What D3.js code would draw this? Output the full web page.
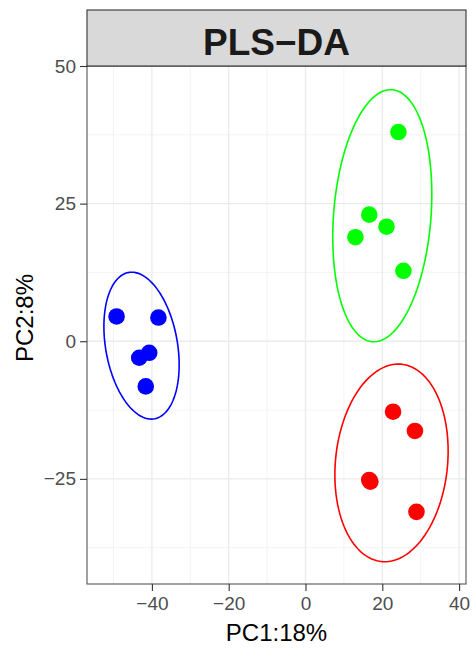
<!DOCTYPE html>
<html>
<head>
<meta charset="utf-8">
<script src="https://cdn.jsdelivr.net/npm/d3@7"></script>
<style>
  html, body { margin: 0; padding: 0; background: #fff; }
  svg { display: block; }
  text { font-family: "Liberation Sans", Arial, Helvetica, sans-serif; }
</style>
</head>
<body>
<svg id="chart" width="473" height="648"></svg>
<script>
// Sample scores on the first two PLS-DA components, one array per group
const groups = ["blue", "green", "red"];
const groupColors = ["#0000FF", "#00FF00", "#FF0000"];
const blueScores = [[-49.2, 4.5], [-38.3, 4.3], [-43.3, -3.0], [-40.7, -2.1], [-41.6, -8.2]];
const greenScores = [[24.2, 38.0], [16.6, 23.0], [21.1, 20.8], [13.0, 18.9], [25.5, 12.8]];
const redScores = [[22.8, -12.8], [28.5, -16.3], [16.6, -25.2], [16.9, -25.5], [28.9, -31.0]];

// Confidence ellipse per group: centre, half-extent along each axis, correlation
const ellipseCx = [-42.7, 20.0, 22.4];
const ellipseCy = [-0.8, 22.8, -22.1];
const ellipseSx = [9.8, 12.9, 14.75];
const ellipseSy = [13.34, 22.9, 17.95];
const ellipseR = [-0.26, 0.17, 0.12];

// Axis ticks
const xMajor = [-40, -20, 0, 20, 40];
const xMinor = [-50, -30, -10, 10, 30];
const yMajor = [-25, 0, 25, 50];
const yMinor = [-37.5, -12.5, 12.5, 37.5];
const xDomain = [-56.9, 41.8];
const yDomain = [-44.1, 50];

const title = "PLS\u2212DA";
const xTitle = "PC1:18%";
const yTitle = "PC2:8%";

const panel = { left: 87, right: 466, top: 66, bottom: 584 };
const strip = { top: 10, bottom: 66 };

const svg = d3.select("#chart");
const x = d3.scaleLinear().domain(xDomain).range([panel.left, panel.right]);
const y = d3.scaleLinear().domain(yDomain).range([panel.bottom, panel.top]);

// Panel background and grid
svg.append("rect")
  .attr("x", panel.left).attr("y", panel.top)
  .attr("width", panel.right - panel.left).attr("height", panel.bottom - panel.top)
  .attr("fill", "#FFFFFF");

const grid = svg.append("g");
grid.selectAll(".xminor").data(xMinor).join("line")
  .attr("x1", d => x(d)).attr("x2", d => x(d))
  .attr("y1", panel.top).attr("y2", panel.bottom)
  .attr("stroke", "#F0F0F0").attr("stroke-width", 0.8);
grid.selectAll(".yminor").data(yMinor).join("line")
  .attr("y1", d => y(d)).attr("y2", d => y(d))
  .attr("x1", panel.left).attr("x2", panel.right)
  .attr("stroke", "#F0F0F0").attr("stroke-width", 0.8);
grid.selectAll(".xmajor").data(xMajor).join("line")
  .attr("x1", d => x(d)).attr("x2", d => x(d))
  .attr("y1", panel.top).attr("y2", panel.bottom)
  .attr("stroke", "#EBEBEB").attr("stroke-width", 1.3);
grid.selectAll(".ymajor").data(yMajor).join("line")
  .attr("y1", d => y(d)).attr("y2", d => y(d))
  .attr("x1", panel.left).attr("x2", panel.right)
  .attr("stroke", "#EBEBEB").attr("stroke-width", 1.3);

// Ellipses
const ellipseLine = d3.line().x(d => x(d[0])).y(d => y(d[1]));
const steps = d3.range(0, 361, 3).map(a => a * Math.PI / 180);
groups.forEach((g, i) => {
  const pts = steps.map(t => [
    ellipseCx[i] + ellipseSx[i] * Math.cos(t),
    ellipseCy[i] + ellipseSy[i] * (ellipseR[i] * Math.cos(t) + Math.sqrt(1 - ellipseR[i] * ellipseR[i]) * Math.sin(t))
  ]);
  svg.append("path")
    .attr("d", ellipseLine(pts))
    .attr("fill", "none")
    .attr("stroke", groupColors[i])
    .attr("stroke-width", 1.6);
});

// Points
const scoreSets = [blueScores, greenScores, redScores];
scoreSets.forEach((set, i) => {
  svg.append("g").selectAll("circle").data(set).join("circle")
    .attr("cx", d => x(d[0])).attr("cy", d => y(d[1]))
    .attr("r", 8.3)
    .attr("fill", groupColors[i]);
});

// Panel border
svg.append("rect")
  .attr("x", panel.left).attr("y", panel.top)
  .attr("width", panel.right - panel.left).attr("height", panel.bottom - panel.top)
  .attr("fill", "none").attr("stroke", "#555555").attr("stroke-width", 1.1);

// Facet strip
svg.append("rect")
  .attr("x", panel.left).attr("y", strip.top)
  .attr("width", panel.right - panel.left).attr("height", strip.bottom - strip.top)
  .attr("fill", "#D9D9D9").attr("stroke", "#333333").attr("stroke-width", 1.1);
svg.append("text")
  .attr("x", (panel.left + panel.right) / 2).attr("y", 55)
  .attr("text-anchor", "middle")
  .attr("font-size", 37).attr("font-weight", "bold").attr("fill", "#1A1A1A")
  .text(title);

// Axes
const xAxis = svg.append("g").attr("transform", `translate(0,${panel.bottom})`)
  .call(d3.axisBottom(x).tickValues(xMajor).tickSize(7).tickPadding(6)
    .tickFormat(d => d3.format("d")(d).replace("-", "\u2212")));
const yAxis = svg.append("g").attr("transform", `translate(${panel.left},0)`)
  .call(d3.axisLeft(y).tickValues(yMajor).tickSize(7).tickPadding(4)
    .tickFormat(d => d3.format("d")(d).replace("-", "\u2212")));
[xAxis, yAxis].forEach(ax => {
  ax.select(".domain").remove();
  ax.selectAll(".tick line").attr("stroke", "#333333").attr("stroke-width", 1.1);
  ax.selectAll(".tick text")
    .attr("font-family", "Liberation Sans, Arial, sans-serif")
    .attr("font-size", 19).attr("fill", "#4D4D4D");
});

// Axis titles
svg.append("text")
  .attr("x", (panel.left + panel.right) / 2).attr("y", 641)
  .attr("text-anchor", "middle").attr("font-size", 24).attr("fill", "#000")
  .text(xTitle);
svg.append("text")
  .attr("transform", `translate(33,${318}) rotate(-90)`)
  .attr("text-anchor", "middle").attr("font-size", 24).attr("fill", "#000")
  .text(yTitle);
</script>
</body>
</html>
